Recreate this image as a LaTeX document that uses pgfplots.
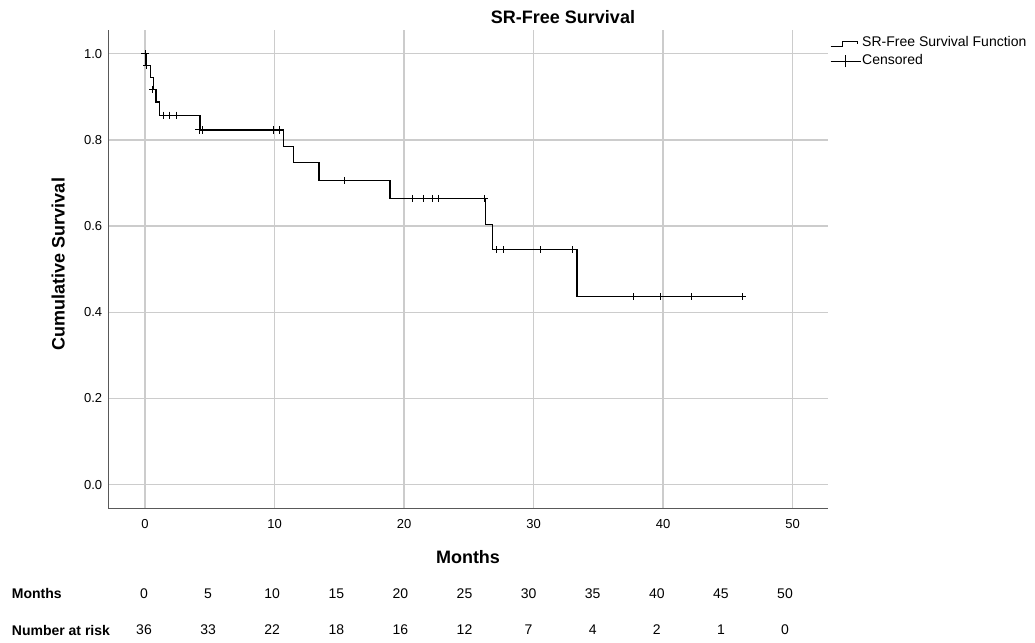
\documentclass[border=0pt]{standalone}
\usepackage{fontspec}
\setmainfont{Liberation Sans}
\usepackage{pgfplots}
\pgfplotsset{compat=1.18}
\pgfplotstableread{
t S
0 1.000
0.08 0.972
0.44 0.944
0.64 0.917
0.85 0.888
1.10 0.857
4.25 0.823
10.68 0.784
11.45 0.747
13.44 0.706
18.92 0.664
26.30 0.603
26.82 0.545
33.36 0.436
46.12 0.436
}\kmdata
\pgfplotstableread{
t S
0.00 1.000
0.13 0.972
0.59 0.917
1.41 0.857
1.93 0.857
2.45 0.857
4.17 0.823
4.46 0.823
9.91 0.823
10.37 0.823
15.42 0.706
20.64 0.664
21.49 0.664
22.18 0.664
22.65 0.664
26.20 0.664
27.16 0.545
27.72 0.545
30.56 0.545
33.00 0.545
37.71 0.436
39.77 0.436
42.22 0.436
46.12 0.436
}\censdata
\begin{document}
\begin{tikzpicture}
\useasboundingbox (0pt,0pt) rectangle (1035pt,-642pt);
\begin{axis}[
  at={(108pt,-508pt)}, anchor=south west,
  width=720pt, height=478pt, scale only axis,
  xmin=-2.857, xmax=52.74, ymin=-0.0541, ymax=1.055,
  axis x line*=bottom, axis y line*=left,
  axis line style={black!65, line width=1pt, -},
  xtick={0,10,20,30,40,50}, ytick={0,0.2,0.4,0.6,0.8,1.0},
  major tick length=0pt,
  grid=major, major grid style={black!20, line width=1.3pt},
  /pgf/number format/assume math mode=true,
  tick label style={font=\fontsize{13}{15}\selectfont, inner sep=0pt},
  xticklabel style={anchor=center, yshift=-15.7pt},
  yticklabel style={anchor=east, xshift=-5.7pt},
  y tick label style={/pgf/number format/.cd, fixed, fixed zerofill, precision=1},
  clip=false,
  legend style={at={(1.0028,0.9895)}, anchor=north west, draw=none, fill=none,
    font=\fontsize{14}{17}\selectfont, inner sep=0pt,
    nodes={inner sep=1pt, text height=10.5pt, text depth=5pt}},
  legend cell align=left,
]
\addplot[const plot, black, line width=1.2pt, no marks,
  legend image code/.code={\draw[black,line width=1pt] (0pt,-2.5pt) -- (12pt,-2.5pt) -- (12pt,2.5pt) -- (27pt,2.5pt) -- (27pt,0pt);}]
  table[x=t,y=S] {\kmdata};
\addlegendentry{SR-Free Survival Function}
\addplot[only marks, mark=+, mark size=3.6pt, black, mark options={line width=1pt},
  legend image code/.code={\draw[black,line width=1pt] (0pt,0pt) -- (30pt,0pt); \draw[black,line width=1pt] (15pt,-6pt) -- (15pt,6pt);}]
  table[x=t,y=S] {\censdata};
\addlegendentry{Censored}
\end{axis}
\node[font=\bfseries\fontsize{18}{20}\selectfont] at (563pt,-16.7pt) {SR-Free Survival};
\node[font=\bfseries\fontsize{18}{20}\selectfont, rotate=90] at (58.3pt,-264pt) {Cumulative Survival};
\node[font=\bfseries\fontsize{18}{20}\selectfont] at (468pt,-557pt) {Months};
\node[font=\bfseries\fontsize{14}{17}\selectfont, anchor=west, inner sep=0pt] at (11.7pt,-593.3pt) {Months};
\node[font=\bfseries\fontsize{14}{17}\selectfont, anchor=west, inner sep=0pt] at (11.7pt,-630pt) {Number at risk};
\foreach \m/\n [count=\i from 0] in {0/36,5/33,10/22,15/18,20/16,25/12,30/7,35/4,40/2,45/1,50/0} {
  \node[font=\fontsize{14}{17}\selectfont] at ({144pt+64.1pt*\i},-593.3pt) {\m};
  \node[font=\fontsize{14}{17}\selectfont] at ({144pt+64.1pt*\i},-630pt) {\n};
}
\end{tikzpicture}
\end{document}
